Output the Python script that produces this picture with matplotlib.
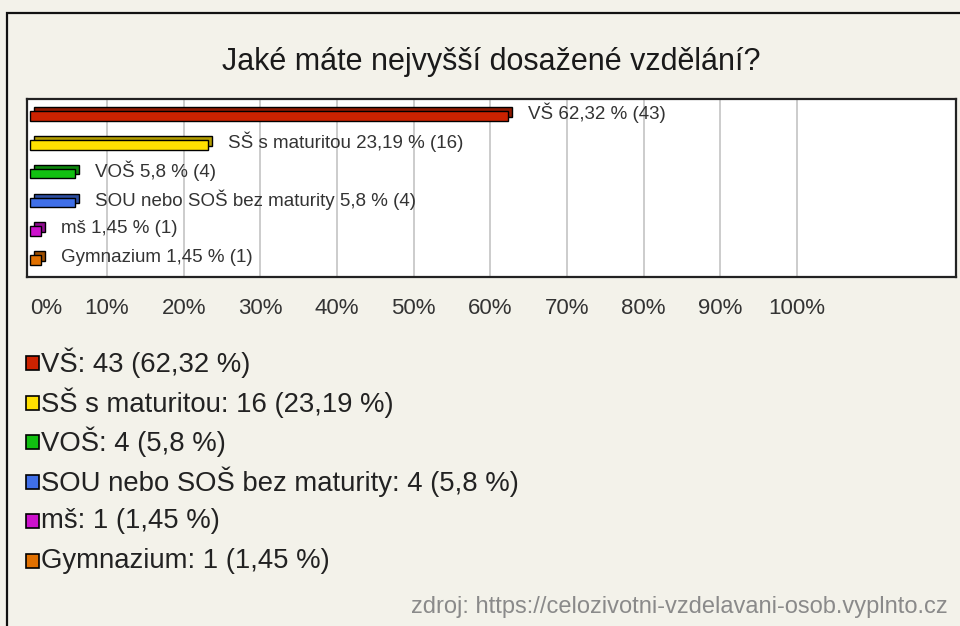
import matplotlib
matplotlib.use("Agg")
import matplotlib.pyplot as plt
import matplotlib.transforms as mtransforms
from matplotlib.patches import Rectangle
from matplotlib.colors import to_rgb

FONT = ['Liberation Sans', 'DejaVu Sans']
plt.rcParams['font.family'] = FONT

title = "Jaké máte nejvyšší dosažené vzdělání?"
categories = ["VŠ", "SŠ s maturitou", "VOŠ", "SOU nebo SOŠ bez maturity", "mš", "Gymnazium"]
counts = [43, 16, 4, 4, 1, 1]
percents = [62.32, 23.19, 5.8, 5.8, 1.45, 1.45]
colors = ["#cc2200", "#ffe000", "#11c011", "#3f6fe8", "#cc11cc", "#e07000"]
tick_values = [0, 10, 20, 30, 40, 50, 60, 70, 80, 90, 100]
tick_labels = [f"{v}%" for v in tick_values]
source = "zdroj: https://celozivotni-vzdelavani-osob.vyplnto.cz"

BG = "#f3f2ea"
W, H = 960, 626
fig = plt.figure(figsize=(W / 100, H / 100), dpi=100, facecolor=BG)

# outer frame
fig.patches.append(Rectangle((7 / W, -0.1), 1.2, 1 - 13 / H + 0.1, transform=fig.transFigure,
                             fill=False, edgecolor="#111111", linewidth=1.6))

fig.text(491 / W, 1 - 62 / H, title, ha="center", va="center", fontsize=22, color="#1a1a1a")

ax = fig.add_axes([27 / W, 1 - 277 / H, 929 / W, 178 / H])
ax.set_facecolor("white")
ax.set_xlim(-0.43, 120.74)
ax.set_ylim(5.59, -0.59)
for s in ax.spines.values():
    s.set_linewidth(1.6)
    s.set_edgecolor("#222222")

for v in tick_values[1:]:
    ax.axvline(v, color="#c8c8c8", linewidth=1.3, zorder=0)

def darker(c, f=0.7):
    r, g, b = to_rgb(c)
    return (r * f, g * f, b * f)

ypos = list(range(len(categories)))
back = ax.transData + mtransforms.ScaledTranslation(4 / 100, 4 / 100, fig.dpi_scale_trans)
ax.barh(ypos, percents, height=0.34, color=[darker(c) for c in colors], edgecolor="black",
        linewidth=1.0, transform=back, zorder=2)
ax.barh(ypos, percents, height=0.34, color=colors, edgecolor="black", linewidth=1.0, zorder=3)

def fmt(p):
    return ("%g" % p).replace(".", ",")

lbl = ax.transData + mtransforms.ScaledTranslation(20 / 100, 3 / 100, fig.dpi_scale_trans)
for y, cat, n, p in zip(ypos, categories, counts, percents):
    ax.text(p, y, f"{cat} {fmt(p)} % ({n})", transform=lbl, ha="left", va="center",
            fontsize=13.5, color="#333333", zorder=4)

ax.set_yticks([])
ax.set_xticks(tick_values)
ax.set_xticklabels(tick_labels)
ax.tick_params(axis="x", length=0, pad=15, labelsize=16, labelcolor="#333333")
ax.get_xticklabels()[0].set_horizontalalignment("left")

# legend rows
for i, (cat, n, p, c) in enumerate(zip(categories, counts, percents, colors)):
    yc = 363 + i * 39.5
    fig.patches.append(Rectangle((26 / W, 1 - (yc + 7) / H), 13 / W, 14 / H,
                                 transform=fig.transFigure, facecolor=c,
                                 edgecolor="black", linewidth=1.2))
    fig.text(41 / W, 1 - yc / H, f"{cat}: {n} ({fmt(p)} %)", ha="left", va="center",
             fontsize=19.8, color="#222222")

fig.text(948 / W, 1 - 607 / H, source, ha="right", va="center", fontsize=17, color="#8a8a8a")

fig.savefig("out.png", dpi=100, facecolor=BG)
